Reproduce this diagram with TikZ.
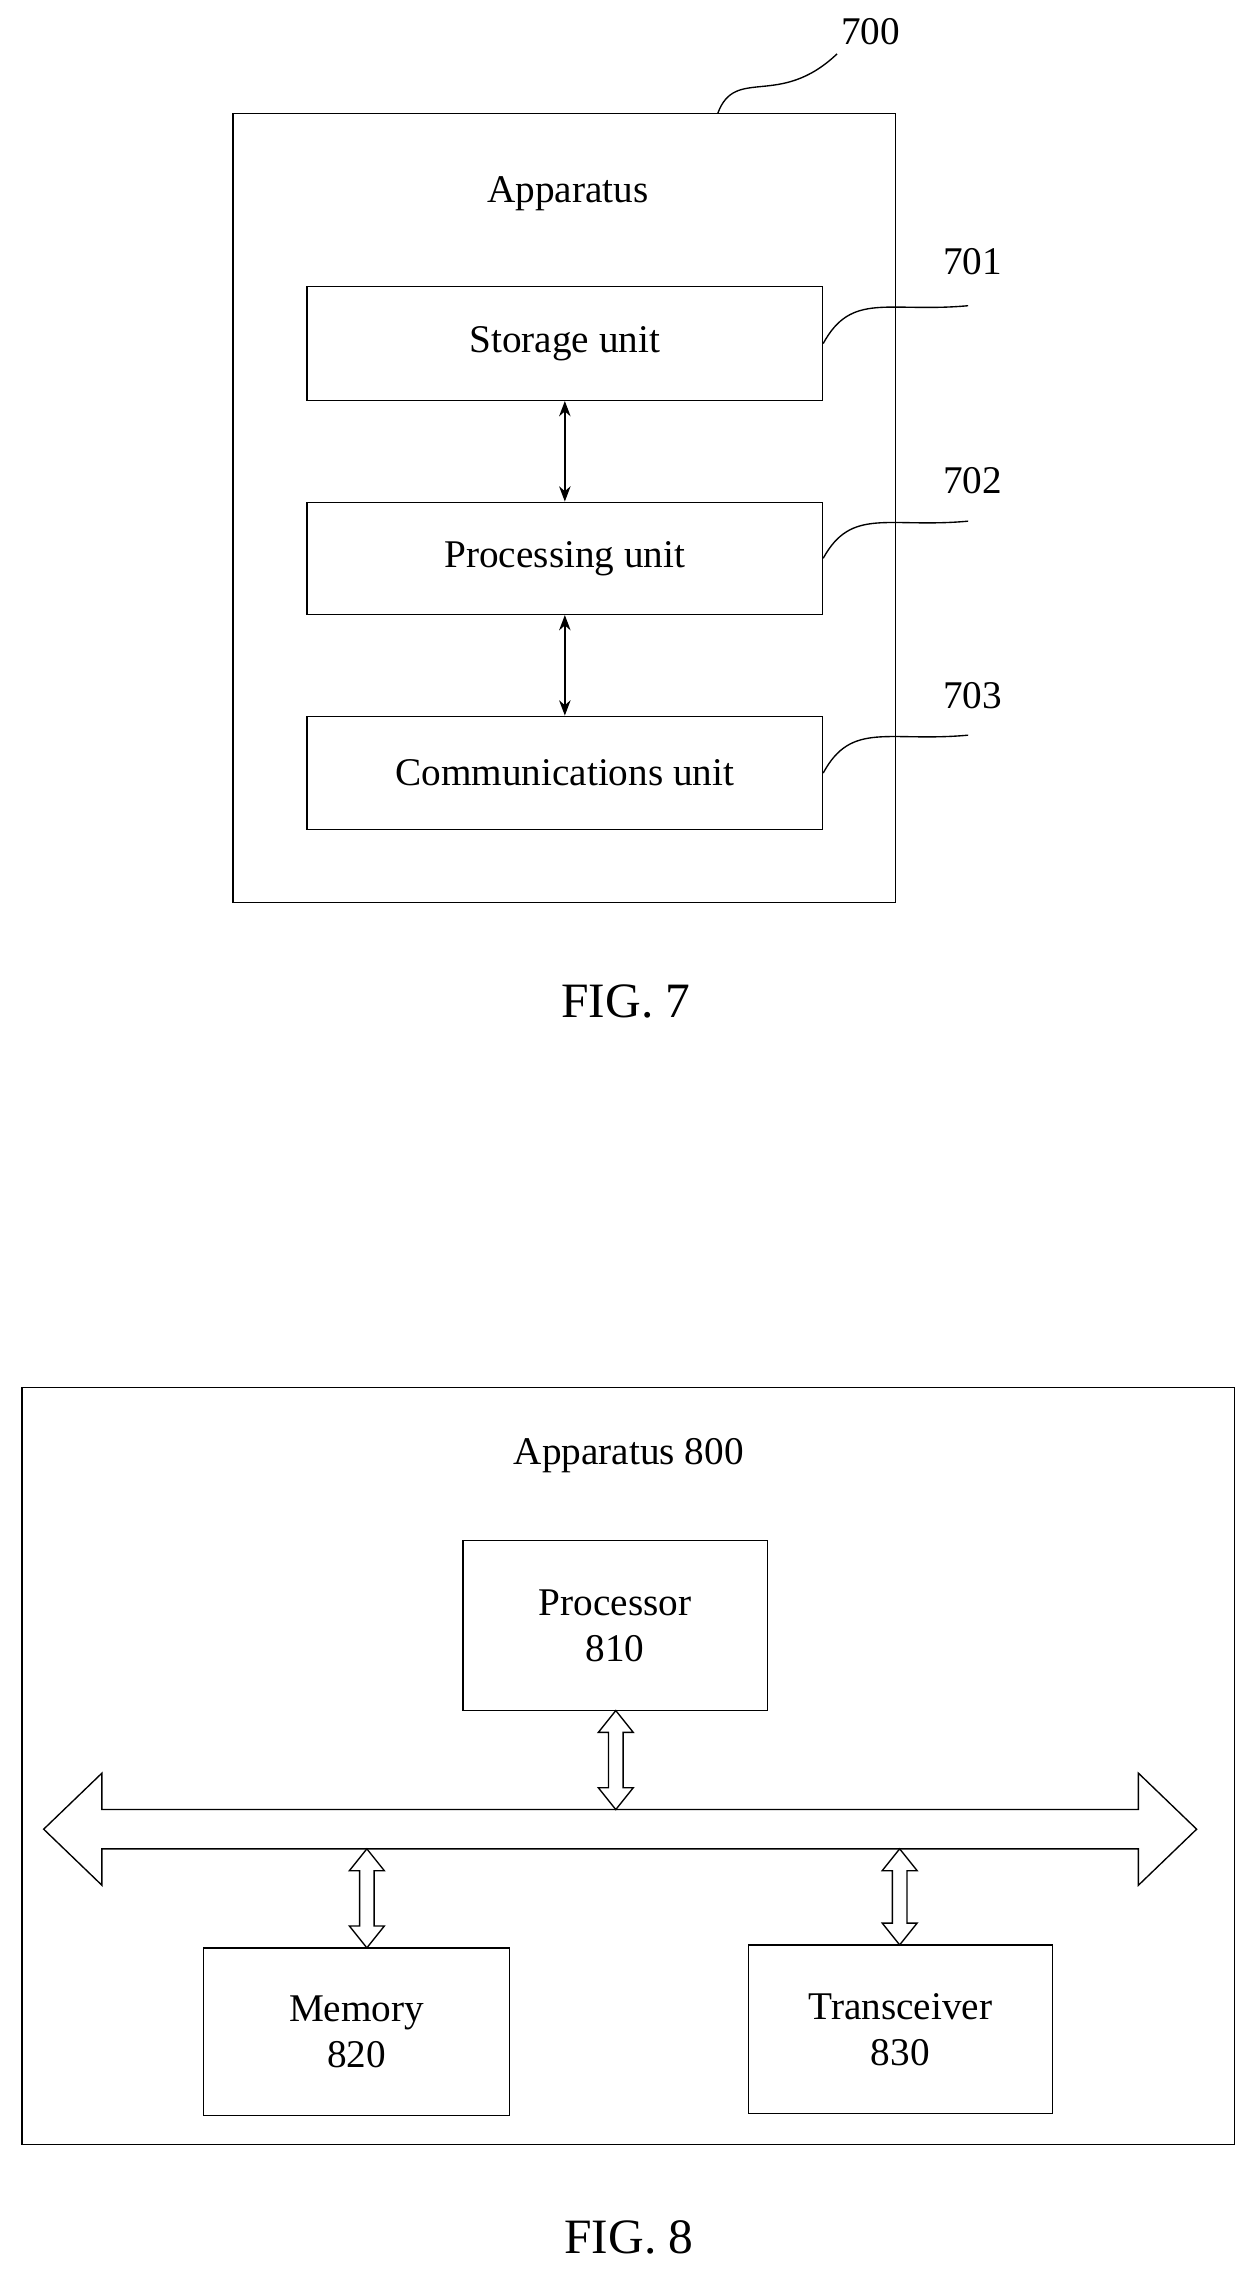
\documentclass[tikz,border=0pt]{standalone}
\usepackage{fontspec}
\setmainfont{Liberation Serif}
\usetikzlibrary{arrows.meta}
\begin{document}
\begin{tikzpicture}[x=0.03cm,y=-0.03cm,
  box/.style={draw,thick,inner sep=0pt,font=\fontsize{23}{27}\selectfont,align=center},
  txt/.style={font=\fontsize{23}{27}\selectfont},
  fig/.style={font=\fontsize{29}{32}\selectfont},
  link/.style={thick,{Stealth[length=9pt]}-{Stealth[length=9pt]}},
  hollow/.style={draw,thick,fill=white,line join=miter}]
\useasboundingbox (0,0) rectangle (860,1560);
% FIG. 7
\node[box,minimum width=455*0.03cm,minimum height=542*0.03cm] (app) at (387.5,349) {};
\node[txt] (apptxt) at (390,133) {Apparatus};
\node[box,minimum width=354*0.03cm,minimum height=78*0.03cm] (stor) at (388,236) {Storage unit};
\node[box,minimum width=354*0.03cm,minimum height=77*0.03cm] (proc) at (388,383.5) {Processing unit};
\node[box,minimum width=354*0.03cm,minimum height=78*0.03cm] (comm) at (388,531) {Communications unit};
\draw[link] (stor) -- (proc);
\draw[link] (proc) -- (comm);
\node[txt] (n700) at (598,22) {700};
\node[txt] (n701) at (668,180) {701};
\node[txt] (n702) at (668,330) {702};
\node[txt] (n703) at (668,478) {703};
\coordinate (c700) at (575,37);
\coordinate (c701) at (665,210);
\coordinate (c702) at (665,358);
\coordinate (c703) at (665,505);
\draw[thick] (493,78) .. controls (505,45) and (535,75) .. (c700);
\draw[thick] (stor.east) .. controls (585,200) and (610,215) .. (c701);
\draw[thick] (proc.east) .. controls (585,348) and (610,363) .. (c702);
\draw[thick] (comm.east) .. controls (585,495) and (610,510) .. (c703);
\node[fig] (fig7) at (430,688) {FIG. 7};
% FIG. 8
\node[box,minimum width=833*0.03cm,minimum height=520*0.03cm] (app8) at (431.5,1213) {};
\node[txt] (app8txt) at (432,1000) {Apparatus 800};
\node[box,minimum width=209*0.03cm,minimum height=117*0.03cm] (cpu) at (422.5,1116.5) {Processor\\810};
\node[box,minimum width=210*0.03cm,minimum height=115*0.03cm] (mem) at (245,1395.5) {Memory\\820};
\node[box,minimum width=209*0.03cm,minimum height=116*0.03cm] (trx) at (618.5,1394) {Transceiver\\830};
% bus
\path[hollow] (30,1256.5) -- (70,1218) -- (70,1243) -- (782,1243) -- (782,1218)
  -- (822,1256.5) -- (782,1295) -- (782,1270) -- (70,1270) -- (70,1295) -- cycle;
\foreach \x/\a/\b in {423/1175/1243, 252/1270/1338, 618/1270/1336}
  \path[hollow] (\x,\a) -- (\x+12,\a+15) -- (\x+5,\a+15) -- (\x+5,\b-15) -- (\x+12,\b-15)
    -- (\x,\b) -- (\x-12,\b-15) -- (\x-5,\b-15) -- (\x-5,\a+15) -- (\x-12,\a+15) -- cycle;
\node[fig] (fig8) at (432,1537) {FIG. 8};
\end{tikzpicture}
\end{document}
